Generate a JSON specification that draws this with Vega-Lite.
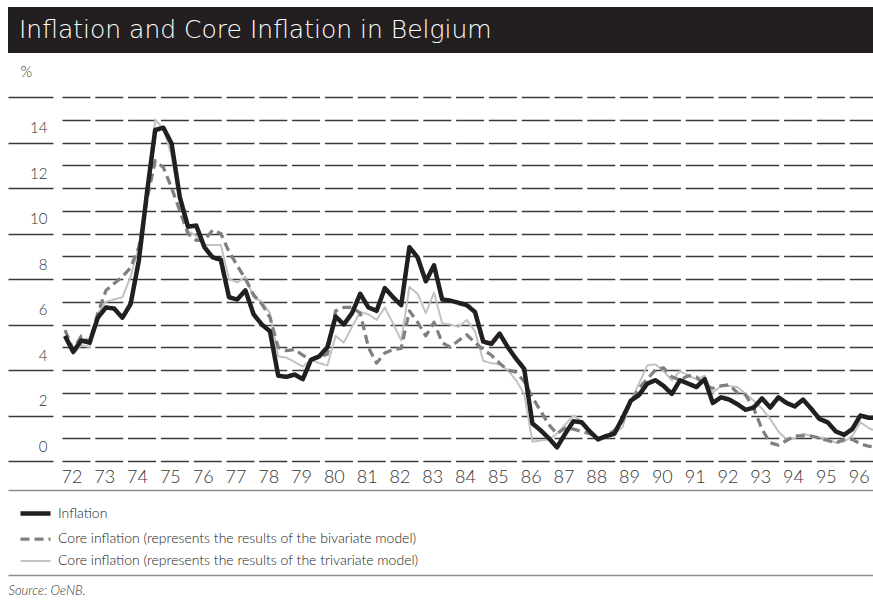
{
  "$schema": "https://vega.github.io/schema/vega-lite/v6.json",
  "padding": {"left": 8, "top": 7, "right": 0, "bottom": 0},
  "background": "white",
  "bounds": "flush",
  "spacing": 44,
  "config": {
    "font": "Lato",
    "view": {"stroke": null},
    "legend": {
      "direction": "vertical",
      "padding": 0,
      "rowPadding": 4,
      "symbolType": "M-1.5,0H1.5",
      "symbolSize": 400,
      "symbolFillColor": "transparent",
      "labelOffset": 10,
      "labelFont": "Lato",
      "labelFontSize": 14,
      "labelFontWeight": 300,
      "labelColor": "#222222",
      "labelLimit": 700
    }
  },
  "vconcat": [
    {
      "width": 865,
      "height": 46,
      "view": {"fill": "#231f20", "stroke": null},
      "data": {"values": [{"title": "Inflation and Core Inflation in Belgium"}]},
      "mark": {"type": "text", "align": "left", "baseline": "middle", "dx": 11, "font": "DejaVu Sans", "fontSize": 25, "fontWeight": 300, "color": "#ffffff"},
      "encoding": {
        "text": {"field": "title"},
        "x": {"datum": 0, "scale": {"domain": [0, 1]}, "axis": null}
      }
    },
    {
      "width": 865,
      "height": 364,
      "data": {"values": [
        {"t": 1972, "inf": 5.5, "biv": 5.75, "tri": 5.4},
        {"t": 1972.25, "inf": 4.8, "biv": 4.9, "tri": 4.7},
        {"t": 1972.5, "inf": 5.3, "biv": 5.5, "tri": 5.1},
        {"t": 1972.75, "inf": 5.2, "biv": 5.2, "tri": 5.0},
        {"t": 1973, "inf": 6.3, "biv": 6.5, "tri": 6.5},
        {"t": 1973.25, "inf": 6.75, "biv": 7.5, "tri": 7.0},
        {"t": 1973.5, "inf": 6.7, "biv": 7.8, "tri": 7.1},
        {"t": 1973.75, "inf": 6.3, "biv": 8.1, "tri": 7.2},
        {"t": 1974, "inf": 6.9, "biv": 8.5, "tri": 8.1},
        {"t": 1974.25, "inf": 8.8, "biv": 9.4, "tri": 9.4},
        {"t": 1974.5, "inf": 11.8, "biv": 11.5, "tri": 12.0},
        {"t": 1974.75, "inf": 14.55, "biv": 13.2, "tri": 15.0},
        {"t": 1975, "inf": 14.65, "biv": 12.9, "tri": 14.6},
        {"t": 1975.25, "inf": 13.95, "biv": 12.0, "tri": 13.4},
        {"t": 1975.5, "inf": 11.6, "biv": 11.0, "tri": 11.5},
        {"t": 1975.75, "inf": 10.3, "biv": 10.0, "tri": 10.1},
        {"t": 1976, "inf": 10.35, "biv": 9.7, "tri": 9.9},
        {"t": 1976.25, "inf": 9.4, "biv": 9.7, "tri": 9.5},
        {"t": 1976.5, "inf": 8.95, "biv": 10.15, "tri": 9.5},
        {"t": 1976.75, "inf": 8.85, "biv": 10.0, "tri": 9.5},
        {"t": 1977, "inf": 7.2, "biv": 9.2, "tri": 8.0},
        {"t": 1977.25, "inf": 7.1, "biv": 8.6, "tri": 7.85},
        {"t": 1977.5, "inf": 7.5, "biv": 8.0, "tri": 8.1},
        {"t": 1977.75, "inf": 6.45, "biv": 7.3, "tri": 7.2},
        {"t": 1978, "inf": 6.0, "biv": 6.9, "tri": 7.0},
        {"t": 1978.25, "inf": 5.7, "biv": 6.3, "tri": 6.5},
        {"t": 1978.5, "inf": 3.75, "biv": 5.0, "tri": 4.6},
        {"t": 1978.75, "inf": 3.7, "biv": 4.85, "tri": 4.55},
        {"t": 1979, "inf": 3.8, "biv": 4.9, "tri": 4.35},
        {"t": 1979.25, "inf": 3.6, "biv": 4.65, "tri": 4.15},
        {"t": 1979.5, "inf": 4.45, "biv": 4.45, "tri": 4.45},
        {"t": 1979.75, "inf": 4.6, "biv": 4.55, "tri": 4.3},
        {"t": 1980, "inf": 5.0, "biv": 4.7, "tri": 4.2},
        {"t": 1980.25, "inf": 6.35, "biv": 6.6, "tri": 5.5},
        {"t": 1980.5, "inf": 6.0, "biv": 6.75, "tri": 5.2},
        {"t": 1980.75, "inf": 6.5, "biv": 6.75, "tri": 5.9},
        {"t": 1981, "inf": 7.35, "biv": 6.5, "tri": 6.55},
        {"t": 1981.25, "inf": 6.75, "biv": 5.0, "tri": 6.45},
        {"t": 1981.5, "inf": 6.6, "biv": 4.3, "tri": 6.2},
        {"t": 1981.75, "inf": 7.6, "biv": 4.75, "tri": 6.75},
        {"t": 1982, "inf": 7.2, "biv": 4.9, "tri": 6.05},
        {"t": 1982.25, "inf": 6.85, "biv": 4.95, "tri": 5.3},
        {"t": 1982.5, "inf": 9.4, "biv": 6.6, "tri": 7.65},
        {"t": 1982.75, "inf": 8.95, "biv": 6.1, "tri": 7.35},
        {"t": 1983, "inf": 7.9, "biv": 5.5, "tri": 6.5},
        {"t": 1983.25, "inf": 8.6, "biv": 6.1, "tri": 7.4},
        {"t": 1983.5, "inf": 7.1, "biv": 5.2, "tri": 6.05},
        {"t": 1983.75, "inf": 7.05, "biv": 5.0, "tri": 6.0},
        {"t": 1984, "inf": 6.95, "biv": 5.3, "tri": 5.9},
        {"t": 1984.25, "inf": 6.85, "biv": 5.55, "tri": 6.2},
        {"t": 1984.5, "inf": 6.55, "biv": 5.2, "tri": 5.7},
        {"t": 1984.75, "inf": 5.25, "biv": 4.9, "tri": 4.4},
        {"t": 1985, "inf": 5.15, "biv": 4.65, "tri": 4.3},
        {"t": 1985.25, "inf": 5.6, "biv": 4.3, "tri": 4.25},
        {"t": 1985.5, "inf": 5.0, "biv": 4.0, "tri": 4.0},
        {"t": 1985.75, "inf": 4.5, "biv": 3.9, "tri": 3.55},
        {"t": 1986, "inf": 4.05, "biv": 3.5, "tri": 2.95},
        {"t": 1986.25, "inf": 1.65, "biv": 2.8, "tri": 0.85},
        {"t": 1986.5, "inf": 1.35, "biv": 2.2, "tri": 0.9},
        {"t": 1986.75, "inf": 1.0, "biv": 1.6, "tri": 0.95},
        {"t": 1987, "inf": 0.6, "biv": 1.2, "tri": 1.2},
        {"t": 1987.25, "inf": 1.2, "biv": 1.45, "tri": 1.6},
        {"t": 1987.5, "inf": 1.75, "biv": 1.4, "tri": 2.0},
        {"t": 1987.75, "inf": 1.7, "biv": 1.3, "tri": 1.75},
        {"t": 1988, "inf": 1.3, "biv": 1.2, "tri": 1.2},
        {"t": 1988.25, "inf": 0.95, "biv": 1.0, "tri": 1.0},
        {"t": 1988.5, "inf": 1.1, "biv": 1.1, "tri": 1.05},
        {"t": 1988.75, "inf": 1.2, "biv": 1.35, "tri": 1.2},
        {"t": 1989, "inf": 1.9, "biv": 1.75, "tri": 1.5},
        {"t": 1989.25, "inf": 2.65, "biv": 2.6, "tri": 2.65},
        {"t": 1989.5, "inf": 2.9, "biv": 3.2, "tri": 3.4},
        {"t": 1989.75, "inf": 3.4, "biv": 3.6, "tri": 4.2},
        {"t": 1990, "inf": 3.55, "biv": 4.0, "tri": 4.25},
        {"t": 1990.25, "inf": 3.3, "biv": 4.1, "tri": 3.95},
        {"t": 1990.5, "inf": 2.95, "biv": 3.7, "tri": 3.55},
        {"t": 1990.75, "inf": 3.55, "biv": 3.55, "tri": 3.95},
        {"t": 1991, "inf": 3.4, "biv": 3.75, "tri": 3.75},
        {"t": 1991.25, "inf": 3.25, "biv": 3.7, "tri": 3.6},
        {"t": 1991.5, "inf": 3.6, "biv": 3.3, "tri": 3.75},
        {"t": 1991.75, "inf": 2.55, "biv": 3.2, "tri": 3.0},
        {"t": 1992, "inf": 2.8, "biv": 3.3, "tri": 3.3},
        {"t": 1992.25, "inf": 2.7, "biv": 3.35, "tri": 3.3},
        {"t": 1992.5, "inf": 2.5, "biv": 3.0, "tri": 3.25},
        {"t": 1992.75, "inf": 2.25, "biv": 2.9, "tri": 2.95},
        {"t": 1993, "inf": 2.35, "biv": 2.3, "tri": 2.65},
        {"t": 1993.25, "inf": 2.75, "biv": 1.4, "tri": 2.3},
        {"t": 1993.5, "inf": 2.35, "biv": 0.8, "tri": 1.85},
        {"t": 1993.75, "inf": 2.8, "biv": 0.7, "tri": 1.3},
        {"t": 1994, "inf": 2.55, "biv": 0.9, "tri": 0.95},
        {"t": 1994.25, "inf": 2.4, "biv": 1.1, "tri": 1.0},
        {"t": 1994.5, "inf": 2.7, "biv": 1.1, "tri": 1.2},
        {"t": 1994.75, "inf": 2.3, "biv": 1.1, "tri": 1.1},
        {"t": 1995, "inf": 1.85, "biv": 1.0, "tri": 1.05},
        {"t": 1995.25, "inf": 1.7, "biv": 0.9, "tri": 0.95},
        {"t": 1995.5, "inf": 1.3, "biv": 0.8, "tri": 0.8},
        {"t": 1995.75, "inf": 1.15, "biv": 0.95, "tri": 0.85},
        {"t": 1996, "inf": 1.4, "biv": 0.95, "tri": 1.1},
        {"t": 1996.25, "inf": 2.0, "biv": 0.75, "tri": 1.7},
        {"t": 1996.5, "inf": 1.9, "biv": 0.65, "tri": 1.45},
        {"t": 1996.75, "inf": 1.9, "biv": 0.6, "tri": 1.3}
      ]},
      "transform": [{"fold": ["inf", "biv", "tri"], "as": ["key", "val"]}],
      "encoding": {
        "y": {
          "field": "val",
          "type": "quantitative",
          "scale": {"domain": [0, 16], "nice": false, "zero": false},
          "axis": {
            "orient": "left",
            "values": [0, 1, 2, 3, 4, 5, 6, 7, 8, 9, 10, 11, 12, 13, 14, 15, 16],
            "grid": true,
            "gridColor": "#3a3a3a",
            "gridWidth": 1.4,
            "gridDash": {
              "condition": {"test": "datum.value % 2 === 0", "value": [45, 9, 28, 4.8, 28, 4.8, 28, 4.8, 28, 4.8, 28, 4.8, 28, 4.8, 28, 4.8, 28, 4.8, 28, 4.8, 28, 4.8, 28, 4.8, 28, 4.8, 28, 4.8, 28, 4.8, 28, 4.8, 28, 4.8, 28, 4.8, 28, 4.8, 28, 4.8, 28, 4.8, 28, 4.8, 28, 4.8, 28, 4.8, 28, 4.8, 28, 4.8]},
              "value": [0, 54, 28, 4.8, 28, 4.8, 28, 4.8, 28, 4.8, 28, 4.8, 28, 4.8, 28, 4.8, 28, 4.8, 28, 4.8, 28, 4.8, 28, 4.8, 28, 4.8, 28, 4.8, 28, 4.8, 28, 4.8, 28, 4.8, 28, 4.8, 28, 4.8, 28, 4.8, 28, 4.8, 28, 4.8, 28, 4.8, 28, 4.8, 28, 4.8, 28, 4.8]
            },
            "domain": false,
            "ticks": false,
            "tickSize": 0,
            "labelExpr": "datum.value % 2 === 0 && datum.value < 16 ? datum.label : ''",
            "labelAlign": "right",
            "labelBaseline": "middle",
            "labelPadding": -39,
            "labelOffset": -15,
            "labelFlush": false,
            "labelOverlap": false,
            "labelFont": "Lato",
            "labelFontSize": 15,
            "labelFontWeight": 300,
            "labelColor": "#333333",
            "title": "%",
            "titleAngle": 0,
            "titleX": 12,
            "titleY": -26,
            "titleAlign": "left",
            "titleBaseline": "middle",
            "titleFont": "Lato",
            "titleFontSize": 15,
            "titleFontWeight": 300,
            "titleColor": "#333333"
          }
        },
        "color": {
          "field": "key",
          "type": "nominal",
          "scale": {"domain": ["inf", "biv", "tri"], "range": ["#231f20", "#808080", "#c2c2c2"]},
          "legend": {"title": null, "orient": "none", "legendX": 15, "legendY": 494, "labelExpr": "datum.value == 'inf' ? 'Inflation' : datum.value == 'biv' ? 'Core inflation (represents the results of the bivariate model)' : 'Core inflation (represents the results of the trivariate model)'"}
        },
        "strokeDash": {
          "field": "key",
          "type": "nominal",
          "scale": {"domain": ["inf", "biv", "tri"], "range": [[1, 0], [9, 5], [1, 0]]},
          "legend": {"title": null, "orient": "none", "legendX": 15, "legendY": 494, "labelExpr": "datum.value == 'inf' ? 'Inflation' : datum.value == 'biv' ? 'Core inflation (represents the results of the bivariate model)' : 'Core inflation (represents the results of the trivariate model)'"}
        },
        "strokeWidth": {
          "field": "key",
          "type": "nominal",
          "scale": {"domain": ["inf", "biv", "tri"], "range": [4.5, 2, 2]},
          "legend": {"title": null, "orient": "none", "legendX": 15, "legendY": 494, "labelExpr": "datum.value == 'inf' ? 'Inflation' : datum.value == 'biv' ? 'Core inflation (represents the results of the bivariate model)' : 'Core inflation (represents the results of the trivariate model)'"}
        }
      },
      "layer": [
        {
          "transform": [{"filter": "datum.key == 'tri'"}],
          "mark": {"type": "line", "clip": true, "strokeJoin": "round"},
          "encoding": {
            "x": {"field": "t", "type": "quantitative", "scale": {"domain": [1970.262, 1996.634], "nice": false, "zero": false}, "axis": null}
          }
        },
        {
          "transform": [{"filter": "datum.key == 'biv'"}],
          "mark": {"type": "line", "clip": true, "strokeJoin": "round"},
          "encoding": {
            "x": {
              "field": "t", "type": "quantitative",
              "scale": {"domain": [1970.262, 1996.634], "nice": false, "zero": false},
              "axis": {
                "orient": "bottom", "offset": 114, "labels": false, "ticks": false, "grid": false,
                "domain": true, "domainColor": "#8c8c8c", "domainWidth": 1.3,
                "title": "Source: OeNB.", "titleX": 0, "titleY": 15, "titleAlign": "left", "titleAnchor": "start",
                "titleBaseline": "middle", "titleFont": "Lato", "titleFontStyle": "italic", "titleFontWeight": 300,
                "titleFontSize": 13, "titleColor": "#333333"
              }
            }
          }
        },
        {
          "transform": [{"filter": "datum.key == 'inf'"}],
          "mark": {"type": "line", "clip": true, "strokeJoin": "round"},
          "encoding": {
            "x": {
              "field": "t", "type": "quantitative",
              "scale": {"domain": [1970.262, 1996.634], "nice": false, "zero": false},
              "axis": {
                "orient": "bottom", "offset": 29,
                "values": [1972, 1973, 1974, 1975, 1976, 1977, 1978, 1979, 1980, 1981, 1982, 1983, 1984, 1985, 1986, 1987, 1988, 1989, 1990, 1991, 1992, 1993, 1994, 1995, 1996],
                "grid": false, "ticks": false, "tickSize": 0,
                "domain": true, "domainColor": "#8c8c8c", "domainWidth": 1.3,
                "labelExpr": "substring(toString(datum.value), 2, 4)",
                "labelAlign": "left", "labelBaseline": "middle", "labelOffset": -4, "labelPadding": -13,
                "labelFlush": false, "labelOverlap": false,
                "labelFont": "Lato", "labelFontSize": 18, "labelFontWeight": 300, "labelColor": "#333333",
                "title": null
              }
            }
          }
        }
      ],
      "resolve": {"axis": {"x": "independent"}}
    }
  ]
}
